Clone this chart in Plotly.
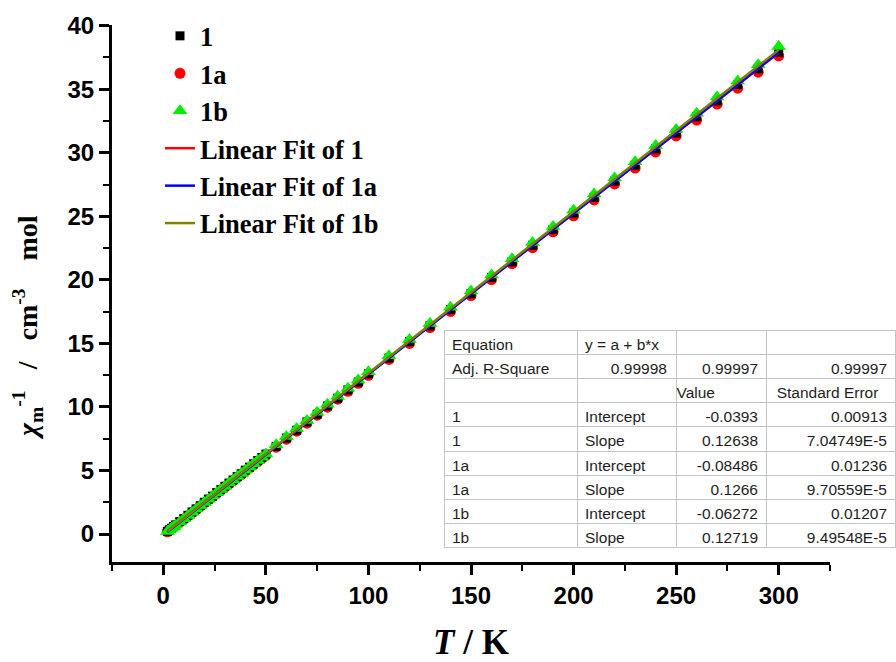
import numpy as np
import plotly.graph_objects as go

# ---------------- data ----------------
T = [2, 3, 4, 5, 6, 8, 10, 12, 14, 16, 18, 20, 22, 24, 26, 28, 30, 32, 34, 36, 38, 40,
     42, 44, 46, 48, 50, 55, 60, 65, 70, 75, 80, 85, 90, 95, 100, 110, 120, 130, 140,
     150, 160, 170, 180, 190, 200, 210, 220, 230, 240, 250, 260, 270, 280, 290, 300]

chi_1 = [0.22, 0.34, 0.46, 0.60, 0.72, 0.98, 1.21, 1.47, 1.74, 1.98, 2.23, 2.50, 2.75,
         2.98, 3.26, 3.49, 3.76, 4.01, 4.25, 4.52, 4.75, 5.03, 5.26, 5.53, 5.78, 6.02,
         6.29, 6.90, 7.55, 8.17, 8.82, 9.43, 10.08, 10.69, 11.34, 11.96, 12.61, 13.85,
         15.14, 16.38, 17.66, 18.91, 20.19, 21.42, 22.72, 23.96, 25.25, 26.49, 27.77,
         29.02, 30.30, 31.55, 32.83, 34.07, 35.36, 36.60, 37.90]

chi_1a = [0.18, 0.31, 0.43, 0.56, 0.69, 0.94, 1.18, 1.44, 1.69, 1.94, 2.19, 2.45, 2.70,
          2.94, 3.20, 3.45, 3.70, 3.95, 4.20, 4.45, 4.70, 4.95, 5.20, 5.45, 5.70, 5.95,
          6.20, 6.83, 7.46, 8.09, 8.72, 9.35, 9.98, 10.61, 11.23, 11.86, 12.49, 13.74,
          15.00, 16.25, 17.51, 18.76, 20.02, 21.27, 22.53, 23.78, 25.04, 26.29, 27.55,
          28.80, 30.06, 31.32, 32.57, 33.83, 35.08, 36.34, 37.62]

chi_1b = [0.19, 0.32, 0.45, 0.57, 0.70, 0.95, 1.21, 1.46, 1.72, 1.97, 2.23, 2.48, 2.74,
          2.99, 3.24, 3.50, 3.75, 4.01, 4.26, 4.52, 4.77, 5.02, 5.28, 5.53, 5.79, 6.04,
          6.30, 7.03, 7.67, 8.30, 8.94, 9.58, 10.21, 10.85, 11.48, 12.12, 12.76, 14.03,
          15.30, 16.57, 17.84, 19.12, 20.39, 21.66, 22.93, 24.20, 25.47, 26.75, 28.02,
          29.29, 30.56, 31.83, 33.11, 34.38, 35.65, 36.92, 38.35]

series_names = ["1", "1a", "1b"]
fit_names = ["Linear Fit of 1", "Linear Fit of 1a", "Linear Fit of 1b"]

# fit results shown in the table
adj_r2 = ["0.99998", "0.99997", "0.99997"]
intercepts = [-0.0393, -0.08486, -0.06272]
slopes = [0.12638, 0.1266, 0.12719]
intercept_text = ["-0.0393", "-0.08486", "-0.06272"]
slope_text = ["0.12638", "0.1266", "0.12719"]
intercept_err = ["0.00913", "0.01236", "0.01207"]
slope_err = ["7.04749E-5", "9.70559E-5", "9.49548E-5"]

x_ticks = [0, 50, 100, 150, 200, 250, 300]
y_ticks = [0, 5, 10, 15, 20, 25, 30, 35, 40]

# ---------------- styles ----------------
marker_colors = ["#000000", "#ff0000", "#00ee00"]
marker_symbols = ["square", "circle", "triangle-up"]
marker_sizes = [9, 11, 13]
fit_colors = ["#ff0000", "#0000ff", "#808000"]

SERIF = "Liberation Serif, Times New Roman, serif"
SANS = "Liberation Sans, Arial, sans-serif"

fig = go.Figure()

# draw red first so that it peeks out below the black squares, as in the original
order = [1, 0, 2]
legend_rank = {0: 1, 1: 2, 2: 3}
for i in order:
    ys = [chi_1, chi_1a, chi_1b][i]
    fig.add_trace(go.Scatter(x=T, y=ys, mode="markers", name=series_names[i],
                             legendrank=legend_rank[i],
                             marker=dict(color=marker_colors[i], symbol=marker_symbols[i],
                                         size=marker_sizes[i], line=dict(width=0))))

x_fit = np.array([T[0], T[-1]], dtype=float)
for k, (name, a, b, col) in enumerate(zip(fit_names, intercepts, slopes, fit_colors)):
    fig.add_trace(go.Scatter(x=x_fit, y=a + b * x_fit, mode="lines", name=name,
                             legendrank=4 + k,
                             line=dict(color=col, width=2.5)))

# ---------------- table ----------------
nb = "\u00a0"
col0 = ["Adj. R-Square", "", "1", "1", "1a", "1a", "1b", "1b"]
col1 = [nb * 6 + adj_r2[0], "", "Intercept", "Slope", "Intercept", "Slope", "Intercept", "Slope"]
col2 = [adj_r2[1], "Value" + nb * 10]
col3 = [adj_r2[2], "Standard" + nb + "Error" + nb * 2]
for i in range(3):
    col2 += [intercept_text[i], slope_text[i]]
    col3 += [intercept_err[i], slope_err[i]]

W, H = 896, 662
ML, MR, MT, MB = 112, 1, 25, 100
pw, ph = W - ML - MR, H - MT - MB
ax_right = 830
tbl_left, tbl_right, tbl_top, tbl_bot = 444, 895, 330, 552

table_font = dict(family=SANS, size=15.5, color="#1e1e1e")
line_style = dict(color="#c4c4c4", width=1)
fig.add_trace(go.Table(
    domain=dict(x=[(tbl_left - ML) / pw, (tbl_right - ML) / pw],
                y=[(H - MB - tbl_bot) / ph, (H - MB - tbl_top) / ph]),
    columnwidth=[133, 99, 90, 129],
    header=dict(values=["Equation", "y = a + b*x", "", ""],
                align=["left", "left", "right", "right"],
                fill_color="white", line=line_style,
                font=table_font, height=24.2),
    cells=dict(values=[col0, col1, col2, col3],
               align=["left", "left", "right", "right"],
               fill_color="white", line=line_style,
               font=table_font, height=24.2),
))

fig.update_layout(
    width=W, height=H, autosize=False,
    margin=dict(l=ML, r=MR, t=MT, b=MB),
    paper_bgcolor="white", plot_bgcolor="white",
    showlegend=True,
    legend=dict(x=(160 - ML) / pw, y=1.024, xanchor="left", yanchor="top",
                bgcolor="rgba(0,0,0,0)", traceorder="normal",
                font=dict(family=SERIF, size=26.5, color="black", weight="bold")),
    xaxis=dict(domain=[0, (ax_right - ML) / pw], range=[-25, 325],
               tickmode="array", tickvals=x_ticks,
               ticks="outside", ticklen=10, tickwidth=3, tickcolor="black",
               showline=True, linewidth=3, linecolor="black",
               showgrid=False, zeroline=False,
               tickfont=dict(family=SANS, size=24, color="black", weight="bold"),
               minor=dict(dtick=25, tick0=0, ticks="outside", ticklen=6, tickwidth=2,
                          tickcolor="black", showgrid=False),
               title=dict(text="<i>T</i> / K", standoff=24,
                          font=dict(family=SERIF, size=35, color="black", weight="bold"))),
    yaxis=dict(range=[-2.2, 40.05],
               tickmode="array", tickvals=y_ticks,
               ticks="outside", ticklen=10, tickwidth=3, tickcolor="black",
               showline=True, linewidth=3, linecolor="black",
               showgrid=False, zeroline=False,
               tickfont=dict(family=SANS, size=24, color="black", weight="bold"),
               minor=dict(dtick=2.5, tick0=0, ticks="outside", ticklen=6, tickwidth=2,
                          tickcolor="black", showgrid=False)),
    annotations=[dict(
        text="<i>χ</i><sub>m</sub><sup>-1</sup>" + nb * 3 + "/" + nb * 3 + "cm<sup>-3</sup>"
             + nb * 4 + "mol",
        xref="paper", yref="paper", x=(27 - ML) / pw, y=(H - MB - 328) / ph,
        xanchor="center", yanchor="middle", textangle=-90, showarrow=False,
        font=dict(family=SERIF, size=28, color="black", weight="bold"))],
)

fig.write_html("out.html")
